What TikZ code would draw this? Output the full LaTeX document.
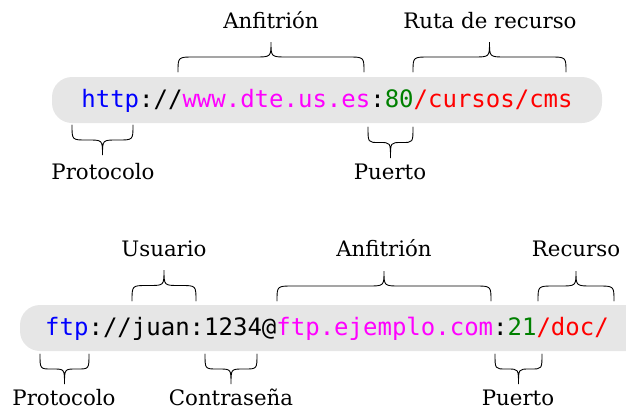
\documentclass[tikz,border=0pt]{standalone}
\usepackage{fontspec}
\setmainfont{DejaVu Serif}
\newfontfamily\urlfont{DejaVu Sans Mono}

\definecolor{fondo}{RGB}{230,230,230}
\definecolor{verde}{RGB}{0,128,0}
\definecolor{rosa}{RGB}{255,0,255}
\definecolor{azul}{RGB}{0,0,255}
\definecolor{rojo}{RGB}{255,0,0}

\tikzset{
  etiqueta/.style={font=\fontsize{21.3}{25}\selectfont, anchor=base, inner sep=0pt},
  url/.style={font=\urlfont\fontsize{24}{28}\selectfont, anchor=base, inner sep=0pt},
  trazo/.style={line width=0.9pt, line cap=round},
  caja/.style={fill=fondo, rounded corners=20pt}
}

% llave: x inicio, x fin, y extremos, y punta
\newcommand{\llave}[4]{%
  \pgfmathsetmacro{\llxm}{(#1+#2)/2}
  \pgfmathsetmacro{\llym}{(#3+#4)/2}
  \pgfmathsetmacro{\llr}{min(16,(#2-#1)/4.2)}
  \draw[trazo] (#1,#3) .. controls (#1,\llym) .. (#1+\llr,\llym) -- (\llxm-\llr,\llym)
    .. controls (\llxm,\llym) .. (\llxm,#4) .. controls (\llxm,\llym) .. (\llxm+\llr,\llym)
    -- (#2-\llr,\llym) .. controls (#2,\llym) .. (#2,#3);
}

\begin{document}
\begin{tikzpicture}[x=1pt,y=-1pt]
\clip (0,0) rectangle (626,410);

% URL http
\fill[caja] (52,77) rectangle (602,123);
\node[url] (urlhttp) at (327,107) {\textcolor{azul}{http}://\textcolor{rosa}{www.dte.us.es}:\textcolor{verde}{80}\textcolor{rojo}{/cursos/cms}};

\foreach \a/\b/\c/\d in {178/364/72/42, 413/566/72/42, 72/133/125/155, 368/413/127/158}{
  \llave{\a}{\b}{\c}{\d}
  }

\node[etiqueta] (anfitrion1) at (271,28) {Anfitrión};
\node[etiqueta] (ruta) at (490,28) {Ruta de recurso};
\node[etiqueta] (protocolo1) at (103,179) {Protocolo};
\node[etiqueta] (puerto1) at (390,179) {Puerto};

% URL ftp
\fill[caja] (20,305) rectangle (660,351);
\node[url] (urlftp) at (327,335) {\textcolor{azul}{ftp}://juan:1234@\textcolor{rosa}{ftp.ejemplo.com}:\textcolor{verde}{21}\textcolor{rojo}{/doc/}};

\foreach \a/\b/\c/\d in {132/196/301/270, 277/491/301/271, 538/614/301/271,
  40/89/354/384, 205/257/354/384, 495/542/354/384}{
  \llave{\a}{\b}{\c}{\d}
  }

\node[etiqueta] (usuario) at (164,256) {Usuario};
\node[etiqueta] (anfitrion2) at (384,256) {Anfitrión};
\node[etiqueta] (recurso) at (576,256) {Recurso};
\node[etiqueta] (protocolo2) at (64,405) {Protocolo};
\node[etiqueta] (contrasena) at (231,405) {Contraseña};
\node[etiqueta] (puerto2) at (518,405) {Puerto};
\end{tikzpicture}
\end{document}
